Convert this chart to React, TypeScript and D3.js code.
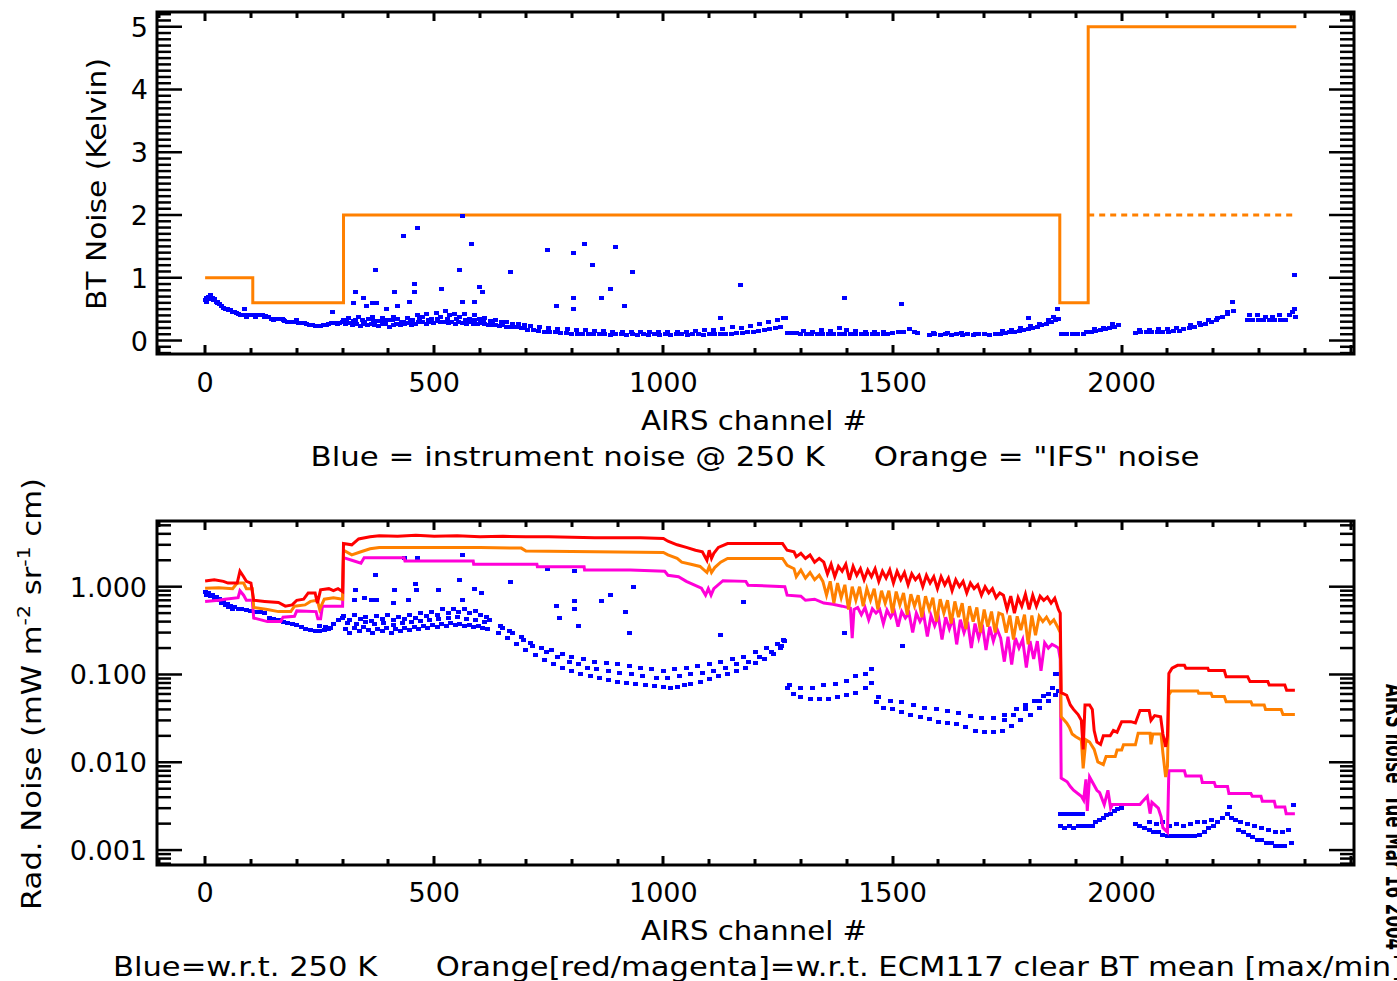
import React, { useRef, useEffect } from "react";
import * as d3 from "d3";

type Pt = [number, number];

// ---- top panel: BT noise (K) ----
const ifsNoise: Pt[] = [[0, 1.0], [104, 0.6], [302, 2.0], [1865, 0.6], [1927, 5.0], [2381, 5.0]];
const ifsNoiseLow: Pt[] = [[1927, 2.0], [2381, 2.0]];

const instBT: Pt[] = [
  [0,.64],[4,.68],[8,.70],[12,.72],[16,.68],[20,.66],[24,.62],[28,.62],[32,.58],[36,.55],[40,.52],[44,.51],[48,.50],[52,.49],[56,.48],[60,.46],[64,.45],[68,.44],[72,.42],[78,.41],[84,.41],[90,.40],[96,.41],[102,.40],[108,.40],[114,.41],[120,.40],[126,.40],[132,.39],[138,.37],[144,.35],[150,.35],[156,.35],[162,.34],[168,.34],[174,.31],[180,.30],[186,.29],[192,.29],[198,.29],[204,.28],[210,.28],[216,.28],[222,.27],[228,.25],[234,.24],[240,.23],[246,.23],[252,.23],[258,.24],[264,.24],[270,.27],[276,.28],[282,.28],[288,.27],[294,.28],[300,.29],[86,.5],[200,.32],
  [2,.62],[10,.66],[18,.65],[26,.6],[90,.38],[110,.38],[130,.38],[150,.33],[170,.32],
  [306,.26],[314,.28],[322,.24],[330,.27],[338,.23],[346,.26],[354,.24],[362,.27],[370,.25],[378,.23],[386,.27],[394,.26],[402,.22],[410,.25],[418,.27],[426,.24],[434,.26],[442,.28],[450,.25],[458,.27],[466,.3],[474,.29],[482,.27],[490,.3],[498,.28],[506,.31],[514,.29],[522,.3],[530,.28],[538,.29],[546,.27],[554,.3],[562,.28],[570,.27],[578,.29],[586,.27],[594,.26],[602,.28],[610,.26],[618,.25],[626,.24],[634,.25],[642,.23],[650,.24],[658,.22],[666,.22],[674,.21],[682,.22],[690,.2],[698,.2],
  [302,.33],[312,.36],[324,.31],[334,.38],[344,.33],[356,.35],[366,.37],[378,.31],[388,.36],[398,.33],[410,.38],[420,.34],[432,.3],[442,.36],[452,.33],[464,.4],[474,.37],[484,.42],[494,.35],[504,.44],[514,.38],[524,.47],[534,.4],[544,.43],[556,.37],[566,.42],[576,.35],[588,.4],[598,.34],[610,.36],[622,.31],[634,.33],[646,.29],[658,.3],[670,.27],[684,.26],[696,.25],
  [308,.3],[328,.32],[348,.29],[368,.31],[388,.3],[408,.32],[428,.29],[448,.31],[468,.34],[488,.33],[508,.35],[528,.34],[548,.35],[568,.33],[588,.32],[608,.31],[628,.29],[648,.27],
  [704,.17],[716,.16],[728,.15],[740,.14],[752,.13],[764,.13],[776,.12],[788,.12],[800,.11],[812,.11],[824,.1],[836,.1],[848,.1],[860,.11],[872,.1],[884,.09],[896,.1],[908,.1],[920,.09],[932,.1],[944,.09],[956,.1],[968,.09],[980,.1],[992,.09],[1004,.1],[1016,.09],[1028,.1],[1040,.1],[1052,.09],[1064,.1],[1076,.1],[1088,.09],[1100,.1],[1112,.1],[1124,.11],[1136,.1],[1148,.11],[1160,.12],[1172,.12],[1184,.13],[1196,.14],[1208,.15],[1220,.16],[1232,.18],[1244,.2],[1256,.22],
  [710,.23],[730,.21],[750,.2],[770,.19],[790,.18],[810,.17],[830,.16],[850,.15],[870,.15],[890,.14],[910,.14],[930,.13],[950,.14],[970,.13],[990,.13],[1010,.14],[1030,.13],[1050,.14],[1070,.15],[1090,.16],[1110,.17],[1130,.19],[1150,.22],[1170,.2],[1190,.23],[1210,.26],[1230,.3],[1250,.33],[1262,.36],
  [1270,.12],[1280,.12],[1290,.12],
  [1300,.1],[1312,.11],[1324,.1],[1336,.11],[1348,.1],[1360,.11],[1372,.1],[1384,.1],[1396,.11],[1408,.1],[1420,.11],[1432,.1],[1444,.11],[1456,.1],[1468,.11],[1480,.1],[1490,.11],
  [1305,.15],[1325,.14],[1345,.16],[1365,.15],[1385,.2],[1400,.17],[1420,.15],[1440,.14],[1460,.13],[1480,.13],
  [1500,.12],[1512,.14],[1524,.13],[1536,.19],[1548,.14],[1554,.12],
  [1580,.09],[1592,.1],[1604,.09],[1616,.1],[1628,.09],[1640,.1],[1652,.09],[1664,.1],[1676,.09],[1688,.1],[1700,.1],[1712,.09],[1724,.1],[1590,.12],[1620,.12],[1650,.12],[1680,.11],
  [1736,.11],[1746,.12],[1756,.13],[1766,.14],[1776,.15],[1786,.17],[1796,.19],[1806,.2],[1816,.22],[1826,.24],[1836,.26],[1846,.29],[1856,.32],[1862,.35],[1740,.15],[1760,.17],[1780,.2],[1800,.23],[1820,.27],[1840,.32],[1852,.37],
  [1868,.1],[1880,.1],[1892,.1],[1904,.1],[1916,.11],
  [1924,.13],[1934,.14],[1944,.15],[1954,.17],[1964,.18],[1974,.2],[1984,.22],[1994,.25],[1940,.19],[1960,.2],[1980,.26],
  [2030,.12],[2042,.13],[2054,.13],[2066,.14],[2078,.14],[2090,.13],[2102,.14],[2114,.15],[2126,.15],[2040,.17],[2060,.16],[2080,.18],[2100,.18],[2120,.2],
  [2136,.18],[2148,.2],[2160,.22],[2172,.24],[2184,.26],[2196,.3],[2208,.33],[2220,.37],[2232,.42],[2244,.47],[2150,.24],[2170,.28],[2190,.32],[2210,.36],[2230,.45],
  [2274,.33],[2286,.33],[2298,.33],[2310,.33],[2322,.33],[2334,.33],[2346,.33],[2358,.33],[2280,.4],[2296,.41],[2314,.38],[2330,.37],[2345,.4],
  [2366,.4],[2372,.45],[2378,.5],[2380,.38],
];

const instBTOutliers: Pt[] = [
  [562,1.98],[463,1.8],[433,1.67],[581,1.53],[372,1.12],[556,1.12],[667,1.09],[747,1.44],[804,1.4],[828,1.53],[846,1.21],[895,1.49],[933,1.09],
  [456,.9],[457,.77],[329,.77],[346,.67],[414,.77],[447,.62],[515,.82],[599,.85],[606,.77],[562,.62],[587,.62],[804,.67],[865,.67],[884,.82],
  [915,.545],[767,.545],[804,.5],[323,.59],[366,.59],[375,.59],[352,.545],[420,.545],[396,.5],[277,.45],[1168,.88],[1395,.67],[1520,.58],
  [1125,.36],[1267,.36],[1796,.36],[1859,.5],[2241,.62],[2378,1.04],
];

// ---- bottom panel: radiance noise ----
const radMax: Pt[] = [
  [0,1.16],[20,1.2],[40,1.15],[50,1.1],[70,1.1],[76,1.5],[84,1.3],[90,1.15],[100,1.1],[106,.7],[130,.68],[160,.66],[175,.6],[190,.62],[200,.7],[215,.72],[225,.85],[240,.85],[245,.65],[252,.92],[270,.95],[280,.9],[290,.95],[300,.88],
  [302,3.1],[320,3.0],[335,3.5],[360,3.7],[380,3.8],[420,3.75],[460,3.85],[500,3.75],[550,3.8],[600,3.7],[650,3.75],[700,3.7],[750,3.7],[800,3.65],[850,3.6],[900,3.6],[950,3.6],[1000,3.55],
  [1010,3.3],[1030,3.0],[1050,2.8],[1070,2.6],[1085,2.5],[1095,2.0],[1100,2.6],[1105,2.1],[1110,2.4],[1120,2.8],[1140,3.1],[1200,3.1],[1260,3.1],
  [1270,2.6],[1285,2.5],[1290,2.2],[1300,2.4],[1310,2.1],[1320,2.3],[1330,1.9],[1340,2.1],[1350,1.9],[1358,1.4],[1366,1.8],[1374,1.3],[1382,1.7],[1390,1.5],[1398,1.8],[1406,1.2],[1414,1.7],[1422,1.35],[1430,1.6],[1438,1.2],[1446,1.55],[1454,1.3],[1462,1.6],[1470,1.15],[1478,1.5],[1486,1.25],[1494,1.55],[1502,1.1],[1510,1.5],[1518,1.2],[1526,1.45],[1534,1.05],[1542,1.4],[1550,1.2],[1558,1.35],[1566,1.0],[1574,1.35],[1582,1.1],[1590,1.3],[1598,.95],[1606,1.3],[1614,1.05],[1622,1.25],[1630,.9],[1638,1.2],[1646,1.0],[1654,1.15],[1662,.85],[1670,1.1],[1678,.95],[1686,1.05],[1694,.8],[1702,1.0],[1710,.85],[1718,.95],[1726,.75],[1734,.85],
  [1742,.8],[1750,.55],[1758,.78],[1766,.5],[1774,.75],[1782,.6],[1790,.82],[1798,.55],[1806,.8],[1814,.6],[1822,.78],[1830,.7],[1838,.76],[1846,.65],[1854,.74],[1862,.55],[1866,.5],
  [1868,.062],[1880,.058],[1888,.045],[1895,.04],[1905,.035],[1912,.03],[1916,.014],[1920,.045],[1930,.045],[1936,.04],[1940,.023],[1946,.017],[1954,.016],[1960,.02],[1975,.02],[1982,.023],[1990,.022],[2000,.029],[2020,.029],[2030,.028],[2040,.039],[2060,.039],[2064,.03],[2072,.034],[2085,.033],[2090,.021],[2096,.015],[2100,.02],
  [2103,.103],[2110,.118],[2122,.127],[2137,.127],[2140,.118],[2188,.118],[2190,.111],[2224,.111],[2228,.094],[2275,.094],[2280,.083],[2319,.083],[2322,.076],[2356,.076],[2360,.066],[2378,.066],
];

const radMean: Pt[] = [
  [0,.96],[30,.97],[60,.95],[70,1.1],[84,1.1],[90,.95],[103,.95],[106,.58],[136,.55],[160,.52],[187,.52],[195,.6],[218,.62],[230,.68],[245,.7],[250,.55],[260,.72],[280,.75],[300,.72],
  [302,2.6],[320,2.3],[340,2.5],[360,2.7],[380,2.8],[500,2.8],[600,2.8],[690,2.75],[700,2.55],[850,2.5],[1000,2.45],[1010,2.3],[1030,2.1],[1040,1.9],[1060,1.8],[1080,1.7],[1095,1.45],[1100,1.7],[1105,1.45],[1112,1.65],[1125,1.9],[1140,2.1],[1260,2.1],
  [1270,1.75],[1285,1.6],[1290,1.3],[1300,1.55],[1310,1.25],[1320,1.45],[1330,1.2],[1340,1.35],[1348,1.15],[1356,.8],[1364,1.15],[1372,.65],[1380,1.1],[1388,.75],[1396,1.05],[1404,.55],[1412,1.0],[1420,.7],[1428,1.0],[1436,.6],[1444,.95],[1452,.7],[1460,.95],[1468,.55],[1476,.9],[1484,.65],[1492,.9],[1500,.5],[1508,.88],[1516,.62],[1524,.85],[1532,.48],[1540,.82],[1548,.6],[1556,.8],[1564,.45],[1572,.78],[1580,.55],[1588,.75],[1596,.4],[1604,.72],[1612,.5],[1620,.7],[1628,.38],[1636,.68],[1644,.45],[1652,.65],[1660,.33],[1668,.6],[1676,.4],[1684,.58],[1692,.3],[1700,.55],[1708,.35],[1716,.52],[1724,.3],[1732,.5],
  [1740,.48],[1748,.3],[1756,.47],[1764,.25],[1772,.46],[1780,.32],[1788,.48],[1796,.22],[1804,.47],[1812,.28],[1820,.46],[1828,.4],[1836,.45],[1844,.38],[1852,.42],[1860,.35],[1866,.3],
  [1868,.033],[1880,.028],[1886,.025],[1892,.021],[1900,.0195],[1912,.018],[1916,.0085],[1922,.018],[1930,.017],[1940,.014],[1948,.0101],[1960,.0094],[1966,.0116],[1986,.0116],[1990,.0138],[2000,.0138],[2004,.0158],[2030,.0158],[2036,.0214],[2062,.0214],[2064,.016],[2068,.021],[2086,.021],[2090,.0127],[2096,.0068],[2100,.009],
  [2103,.0585],[2108,.0649],[2166,.0649],[2168,.0613],[2195,.0613],[2198,.056],[2224,.056],[2228,.049],[2282,.049],[2285,.045],[2311,.045],[2314,.04],[2348,.04],[2352,.035],[2378,.035],
];

const radMin: Pt[] = [
  [0,.68],[30,.7],[43,.72],[72,.75],[76,.9],[84,.8],[90,.7],[103,.7],[106,.44],[136,.4],[165,.4],[170,.45],[195,.46],[200,.53],[242,.52],[246,.43],[252,.43],[256,.6],[300,.6],
  [302,2.14],[320,2.0],[340,1.85],[347,2.14],[434,2.14],[436,1.96],[585,1.96],[586,1.8],[724,1.8],[725,1.69],[827,1.69],[828,1.55],[928,1.55],[1003,1.5],[1010,1.35],[1033,1.3],[1050,1.15],[1083,.96],[1092,.8],[1098,.95],[1104,.8],[1110,.95],[1130,1.17],[1180,1.15],[1185,1.04],[1265,1.0],
  [1270,.8],[1300,.78],[1310,.7],[1330,.72],[1350,.65],[1370,.63],[1390,.6],[1408,.57],[1412,.26],[1416,.55],[1424,.58],[1432,.48],[1440,.58],[1448,.42],[1456,.56],[1464,.5],[1472,.55],[1480,.38],[1488,.54],[1496,.45],[1504,.53],[1512,.35],[1520,.52],[1528,.44],[1536,.5],[1544,.3],[1552,.5],[1560,.4],[1568,.48],[1576,.27],[1584,.47],[1592,.36],[1600,.46],[1608,.25],[1616,.45],[1624,.33],[1632,.44],[1640,.22],[1648,.42],[1656,.3],[1664,.4],[1672,.2],[1680,.38],[1688,.26],[1696,.37],[1704,.19],[1712,.35],[1720,.24],[1728,.33],
  [1736,.26],[1744,.14],[1752,.27],[1760,.13],[1768,.26],[1776,.2],[1784,.25],[1792,.12],[1800,.24],[1808,.15],[1816,.24],[1824,.11],[1832,.23],[1840,.2],[1848,.22],[1856,.21],[1862,.2],[1866,.15],
  [1868,.0066],[1881,.006],[1888,.0053],[1895,.0048],[1912,.0041],[1917,.0037],[1922,.0064],[1925,.0028],[1930,.0068],[1946,.0048],[1952,.0045],[1962,.0033],[1970,.0048],[1976,.003],[1980,.0033],[2040,.0033],[2044,.0035],[2056,.0041],[2062,.0026],[2066,.0035],[2080,.003],[2086,.0024],[2090,.0018],[2100,.0016],
  [2103,.008],[2137,.008],[2140,.007],[2173,.007],[2176,.0059],[2202,.0059],[2205,.0053],[2231,.0053],[2234,.0044],[2282,.0044],[2285,.0041],[2304,.0041],[2307,.0036],[2333,.0036],[2336,.0031],[2356,.0031],[2359,.0026],[2378,.0026],
];

const instRad: Pt[] = [
  [0,.86],[8,.85],[16,.8],[24,.76],[32,.72],[40,.68],[48,.64],[56,.6],[64,.58],[72,.56],[80,.55],[90,.54],[100,.53],[110,.52],[120,.52],[130,.5],[140,.44],[150,.43],[160,.42],[170,.4],[180,.39],[190,.38],[200,.37],[210,.35],[220,.33],[230,.32],[240,.31],[250,.31],[260,.32],[270,.33],[280,.38],[290,.42],[300,.44],[250,.36],[262,.35],[274,.34],
  [4,.8],[12,.78],[20,.74],[28,.7],[36,.65],[44,.62],[52,.58],[60,.56],
  [306,.33],[316,.3],[326,.34],[336,.31],[346,.35],[356,.32],[366,.3],[376,.33],[386,.31],[396,.34],[406,.3],[416,.33],[426,.31],[436,.34],[446,.32],[456,.35],[466,.33],[476,.36],[486,.34],[496,.37],[506,.35],[516,.38],[526,.36],[536,.39],[546,.37],[556,.38],[566,.36],[576,.37],[586,.35],[596,.36],[606,.34],[616,.33],
  [302,.46],[314,.42],[326,.47],[338,.43],[350,.45],[362,.41],[374,.46],[386,.43],[398,.47],[410,.42],[422,.45],[434,.43],[446,.48],[458,.44],[470,.5],[482,.46],[494,.52],[506,.47],[518,.55],[530,.5],[542,.56],[554,.52],[566,.55],[578,.5],[590,.53],[602,.48],[614,.45],
  [310,.39],[330,.38],[350,.4],[370,.38],[390,.39],[410,.37],[430,.39],[450,.4],[470,.41],[490,.42],[510,.43],[530,.44],[550,.45],[570,.43],[590,.42],[610,.4],
  [640,.3],[660,.26],[680,.22],[700,.19],[720,.165],[740,.145],[760,.13],[780,.12],[800,.11],[820,.1],[840,.095],[860,.09],[880,.087],[900,.083],[920,.08],[940,.078],[960,.075],[980,.073],[1000,.072],[1015,.07],[1030,.072],[1045,.075],[1060,.078],[1080,.082],[1100,.088],[1120,.095],[1140,.1],[1160,.11],[1180,.12],[1200,.135],[1220,.15],[1240,.17],[1255,.2],[1265,.24],
  [620,.42],[645,.36],[665,.31],[690,.27],[710,.23],[735,.2],[755,.19],[780,.17],[800,.16],[825,.15],[850,.14],[875,.135],[900,.13],[925,.125],[950,.12],[975,.115],[1000,.11],[1025,.115],[1050,.12],[1075,.125],[1100,.13],[1125,.14],[1150,.15],[1175,.16],[1200,.18],[1225,.2],[1250,.22],[1262,.25],
  [650,.34],[670,.3],[695,.25],[715,.21],[745,.18],[770,.16],[795,.14],[815,.13],[835,.12],[855,.115],[880,.11],[905,.105],[930,.1],[955,.095],[985,.09],[1010,.09],[1035,.095],[1060,.1],[1085,.105],[1110,.11],[1135,.12],[1160,.13],[1185,.14],[1210,.16],[1235,.18],[1258,.21],
  [1270,.07],[1285,.06],[1300,.055],[1320,.052],[1340,.052],[1360,.053],[1380,.055],[1400,.058],[1420,.062],[1440,.07],[1455,.08],[1275,.075],[1300,.07],[1325,.07],[1350,.075],[1375,.078],[1400,.085],[1420,.095],[1440,.1],[1455,.115],
  [1465,.048],[1480,.042],[1500,.04],[1520,.037],[1540,.035],[1560,.033],[1580,.031],[1600,.029],[1620,.028],[1640,.027],[1660,.025],[1680,.023],[1700,.022],[1720,.022],[1740,.023],[1760,.026],[1780,.03],[1800,.035],[1820,.041],[1840,.05],[1855,.058],[1862,.065],
  [1470,.055],[1495,.05],[1520,.048],[1545,.045],[1570,.042],[1595,.04],[1620,.038],[1645,.036],[1670,.034],[1695,.032],[1720,.032],[1745,.035],[1770,.04],[1790,.045],[1810,.05],[1830,.057],[1850,.07],[1860,.1],
  [1866,.0026],[1876,.0026],[1886,.0026],[1896,.0026],[1906,.0026],[1914,.0026],
  [1866,.0019],[1876,.0018],[1886,.0019],[1896,.0018],[1906,.0019],[1916,.0019],[1926,.0019],[1936,.0019],[1944,.0021],[1952,.0022],[1960,.0023],[1968,.0025],[1976,.0026],[1984,.0028],[1992,.0029],[2000,.003],
  [2030,.002],[2040,.0019],[2050,.0018],[2060,.0017],[2070,.0016],[2080,.0016],[2090,.0015],[2100,.00145],[2110,.00144],[2120,.00144],[2130,.00144],[2140,.00144],[2150,.00145],[2160,.00145],[2170,.0015],[2180,.0016],[2190,.0018],[2200,.0019],[2210,.0021],[2220,.0023],[2230,.0026],[2236,.0031],
  [2060,.0021],[2075,.002],[2090,.0021],[2105,.0019],[2120,.002],[2135,.0019],[2150,.002],[2165,.0021],[2180,.0021],[2195,.0022],[2240,.0023],[2248,.0022],
  [2256,.0017],[2266,.0016],[2276,.0015],[2286,.0014],[2296,.0013],[2306,.0013],[2316,.0012],[2326,.0012],[2336,.0011],[2346,.0011],[2356,.0011],[2370,.0012],
  [2260,.0021],[2275,.002],[2290,.0019],[2305,.0018],[2320,.0017],[2335,.0016],[2350,.0016],[2365,.0017],[2374,.0033],
];

const instRadOutliers: Pt[] = [
  [561,2.28],[463,2.1],[434,2.1],[372,1.35],[805,1.5],[747,1.6],[555,1.2],[667,1.14],[459,1.06],[329,.92],[414,.92],[462,.92],[510,.92],[587,.95],
  [348,.74],[444,.7],[561,.7],[604,.84],[805,.68],[767,.6],[805,.55],[325,.7],[362,.7],[374,.7],[412,.66],[935,1.0],[884,.8],[1175,.67],[1395,.3],
  [1522,.21],[1125,.28],[814,.36],[865,.69],[917,.51],[774,.44],[925,.3],[1745,.03],[1765,.035],[1790,.04],[1820,.05],[1840,.06],[1855,.1],
];

const xTickLabels = ["0", "500", "1000", "1500", "2000"];
const btTickLabels = ["0", "1", "2", "3", "4", "5"];
const radTickLabels = ["0.001", "0.010", "0.100", "1.000"];

export default function App() {
  const ref = useRef<SVGSVGElement>(null);

  useEffect(() => {
    const svg = d3.select(ref.current);
    svg.selectAll("*").remove();
    const font = "'DejaVu Sans', sans-serif";
    const fs = 27;

    const L = 157, R = 1354;
    const top = { t: 12, b: 354 };
    const bot = { t: 521, b: 865 };

    const x = d3.scaleLinear().domain([-105, 2507]).range([L, R]);
    const yT = d3.scaleLinear().domain([-0.215, 5.235]).range([top.b, top.t]);
    const yB = d3.scaleLog().domain([0.000676, 5.6]).range([bot.b, bot.t]);

    const defs = svg.append("defs");
    defs.append("clipPath").attr("id", "clipT").append("rect")
      .attr("x", L).attr("y", top.t).attr("width", R - L).attr("height", top.b - top.t);
    defs.append("clipPath").attr("id", "clipB").append("rect")
      .attr("x", L).attr("y", bot.t).attr("width", R - L).attr("height", bot.b - bot.t);

    const blue = "#0000ff", orange = "#ff8000", red = "#ff0000", magenta = "#ff00d8";

    function frame(p: { t: number; b: number }, yTicks: { y: number; major: boolean }[]) {
      const g = svg.append("g").attr("stroke", "#000").attr("stroke-width", 3);
      d3.range(-100, 2501, 100).forEach(v => {
        const major = v % 500 === 0;
        const len = major ? 9 : 6;
        const xx = Math.round(x(v));
        g.append("line").attr("x1", xx).attr("x2", xx).attr("y1", p.t).attr("y2", p.t + len);
        g.append("line").attr("x1", xx).attr("x2", xx).attr("y1", p.b).attr("y2", p.b - len);
      });
      yTicks.forEach(tk => {
        const len = tk.major ? 25 : 14;
        g.append("line").attr("x1", L).attr("x2", L + len).attr("y1", tk.y).attr("y2", tk.y).attr("stroke-width", 2.5);
        g.append("line").attr("x1", R).attr("x2", R - len).attr("y1", tk.y).attr("y2", tk.y).attr("stroke-width", 2.5);
      });
      g.append("rect").attr("x", L).attr("y", p.t).attr("width", R - L).attr("height", p.b - p.t)
        .attr("fill", "none");
    }

    function text(s: string, xx: number, yy: number, anchor: string, len?: number, rot?: number) {
      const t = svg.append("text")
        .attr("x", xx).attr("y", yy)
        .attr("text-anchor", anchor)
        .attr("font-family", font).attr("font-size", fs)
        .style("white-space", "pre")
        .text(s);
      if (len) t.attr("textLength", len).attr("lengthAdjust", "spacingAndGlyphs");
      if (rot) t.attr("transform", `rotate(${rot},${xx},${yy})`);
      return t;
    }

    // ---------- top panel ----------
    const btTicks: { y: number; major: boolean }[] = [];
    d3.range(-2, 53).forEach(i => btTicks.push({ y: yT(i / 10), major: i % 10 === 0 }));
    frame(top, btTicks);

    const gT = svg.append("g").attr("clip-path", "url(#clipT)");
    const lineT = d3.line<Pt>().x(d => x(d[0])).y(d => yT(d[1])).curve(d3.curveStepAfter);
    gT.append("path").attr("d", lineT(ifsNoise)).attr("fill", "none").attr("stroke", orange).attr("stroke-width", 3);
    gT.append("path").attr("d", lineT(ifsNoiseLow)).attr("fill", "none").attr("stroke", orange)
      .attr("stroke-width", 3).attr("stroke-dasharray", "6,5");
    gT.selectAll("rect.bt").data(instBT.concat(instBTOutliers)).join("rect")
      .attr("x", d => Math.round(x(d[0]) - 2.5)).attr("y", d => Math.round(yT(d[1]) - 2))
      .attr("width", 5).attr("height", 4).attr("fill", blue).attr("shape-rendering", "crispEdges");

    btTickLabels.forEach((s, i) => text(s, 148, yT(i) + 10, "end"));
    xTickLabels.forEach((s, i) => text(s, x(i * 500), 392, "middle"));
    text("AIRS channel #", 754, 430, "middle", 226);
    text("Blue = instrument noise @ 250 K     Orange = \"IFS\" noise", 755, 466, "middle", 889);
    text("BT Noise (Kelvin)", 106, 184, "middle", 252, -90);

    // ---------- bottom panel ----------
    const radTicks: { y: number; major: boolean }[] = [];
    [-4, -3, -2, -1, 0].forEach(d => {
      for (let k = 1; k <= 9; k++) {
        const v = k * Math.pow(10, d);
        if (v >= 0.000676 && v <= 5.6) radTicks.push({ y: yB(v), major: k === 1 });
      }
    });
    frame(bot, radTicks);

    const gB = svg.append("g").attr("clip-path", "url(#clipB)");
    const lineB = d3.line<Pt>().x(d => x(d[0])).y(d => yB(d[1]));
    gB.selectAll("rect.rad").data(instRad.concat(instRadOutliers)).join("rect")
      .attr("x", d => Math.round(x(d[0]) - 2.5)).attr("y", d => Math.round(yB(d[1]) - 2))
      .attr("width", 5).attr("height", 4).attr("fill", blue).attr("shape-rendering", "crispEdges");
    gB.append("path").attr("d", lineB(radMin)).attr("fill", "none").attr("stroke", magenta).attr("stroke-width", 3);
    gB.append("path").attr("d", lineB(radMean)).attr("fill", "none").attr("stroke", orange).attr("stroke-width", 3);
    gB.append("path").attr("d", lineB(radMax)).attr("fill", "none").attr("stroke", red).attr("stroke-width", 3);

    radTickLabels.forEach((s, i) => text(s, 147, yB(Math.pow(10, i - 3)) + 10, "end"));
    xTickLabels.forEach((s, i) => text(s, x(i * 500), 902, "middle"));
    text("AIRS channel #", 754, 940, "middle", 226);
    text("Blue=w.r.t. 250 K      Orange[red/magenta]=w.r.t. ECM117 clear BT mean [max/min]", 113, 976, "start", 1290);

    const yl = svg.append("text")
      .attr("x", 41).attr("y", 694).attr("text-anchor", "middle")
      .attr("font-family", font).attr("font-size", fs)
      .attr("transform", "rotate(-90,41,694)");
    yl.append("tspan").text("Rad. Noise (mW m");
    yl.append("tspan").attr("dy", -11).attr("font-size", 18).text("-2");
    yl.append("tspan").attr("dy", 11).text(" sr");
    yl.append("tspan").attr("dy", -11).attr("font-size", 18).text("-1");
    yl.append("tspan").attr("dy", 11).text(" cm)");
    yl.attr("textLength", 432).attr("lengthAdjust", "spacingAndGlyphs");

    // margin label clipped at the right edge, as in the original plot
    text("AIRS noise  Tue Mar 16 2004", 1386, 684, "start", 266, 90).attr("font-weight", "bold");
  }, []);

  return (
    <svg
      ref={ref}
      width={1397}
      height={981}
      style={{ position: "absolute", left: 0, top: 0, background: "#fff" }}
    />
  );
}
